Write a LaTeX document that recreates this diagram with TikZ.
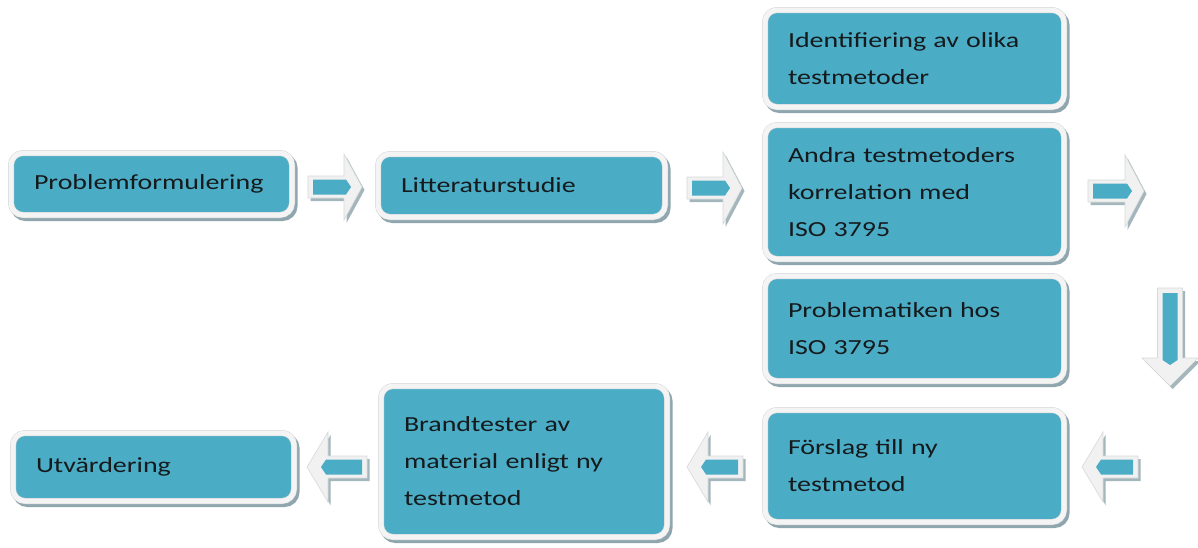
\documentclass[tikz,border=0pt]{standalone}
\usepackage{fontspec}
\setmainfont{Carlito}[FakeStretch=1.3, WordSpace=0.55]
\definecolor{boxblue}{HTML}{4BACC6}
\definecolor{framewhite}{HTML}{F4F4F4}
\definecolor{framegray}{HTML}{D4D8DA}
\definecolor{shadowcol}{HTML}{8FA6AE}
\definecolor{arrowfill}{HTML}{F1F1F1}
\definecolor{arrowline}{HTML}{D6D9DA}
\definecolor{arrowshadow}{HTML}{A3B6BC}
\definecolor{textcol}{HTML}{151A1C}
\tikzset{
  box/.style={rounded corners=12pt, fill=boxblue, draw=framegray, line width=0.5pt,
    double=framewhite, double distance=5pt, align=left, inner xsep=23pt, inner ysep=2pt,
    text=textcol, font=\fontsize{21.5}{37}\selectfont,
    preaction={draw=shadowcol, line width=6pt, transform canvas={shift={(2.5pt,-3pt)}}}},
  pics/barrow/.style n args={4}{code={
    % #1 length, #2 head length, #3 head half height, #4 shaft half height
    \begin{scope}[transform canvas={shift={(2.5pt,-3pt)}}]
      \fill[arrowshadow] (0,-#4) -- (#1-#2,-#4) -- (#1-#2,-#3) -- (#1,0) -- (#1-#2,#3) -- (#1-#2,#4) -- (0,#4) -- cycle;
    \end{scope}
    \filldraw[fill=arrowfill, draw=arrowline, line width=0.6pt, line join=miter]
      (0,-#4) -- (#1-#2,-#4) -- (#1-#2,-#3) -- (#1,0) -- (#1-#2,#3) -- (#1-#2,#4) -- (0,#4) -- cycle;
    \fill[boxblue] (5,-7.5) -- (#1-#2+2,-7.5) -- (#1-#2+7,0) -- (#1-#2+2,7.5) -- (5,7.5) -- cycle;
  }}
}
\begin{document}
\begin{tikzpicture}[x=1pt, y=-1pt]
\useasboundingbox[fill=white] (0,0) rectangle (1198,547);

\node[box, minimum width=281pt, text width=235pt, minimum height=62pt] (p1) at (151.5,184) {Problemformulering};
\node[box, minimum width=287pt, text width=241pt, minimum height=63pt] (p2) at (521.5,185.5) {Litteraturstudie};
\node[box, minimum width=299pt, text width=253pt, minimum height=97pt] (p3) at (914.5,58.5) {Identifiering av olika\\testmetoder};
\node[box, minimum width=299pt, text width=253pt, minimum height=134pt] (p4) at (914.5,192) {Andra testmetoders\\korrelation med\\ISO 3795};
\node[box, minimum width=299pt, text width=253pt, minimum height=105pt] (p5) at (914.5,328.5) {Problematiken hos\\ISO 3795};
\node[box, minimum width=299pt, text width=253pt, minimum height=112pt] (p6) at (914.5,466) {Förslag till ny\\testmetod};
\node[box, minimum width=286pt, text width=240pt, minimum height=151pt] (p7) at (524,461.5) {Brandtester av\\material enligt ny\\testmetod};
\node[box, minimum width=281pt, text width=235pt, minimum height=68pt] (p8) at (153.5,467) {Utvärdering};

\pic (a1) at (308,187) {barrow={54}{18}{33}{11}};
\pic (a2) at (687,188) {barrow={55}{19}{36}{11}};
\pic (a3) at (1088,191) {barrow={56}{19}{36}{11}};
\pic[rotate=-90] (a4) at (1170,288) {barrow={98}{28}{28}{12.5}};
\pic[rotate=180] (a5) at (1138,467) {barrow={56}{21}{35}{11}};
\pic[rotate=180] (a6) at (743,467) {barrow={56}{21}{35}{11}};
\pic[rotate=180] (a7) at (367,467) {barrow={60}{21}{35}{11}};
\end{tikzpicture}
\end{document}
